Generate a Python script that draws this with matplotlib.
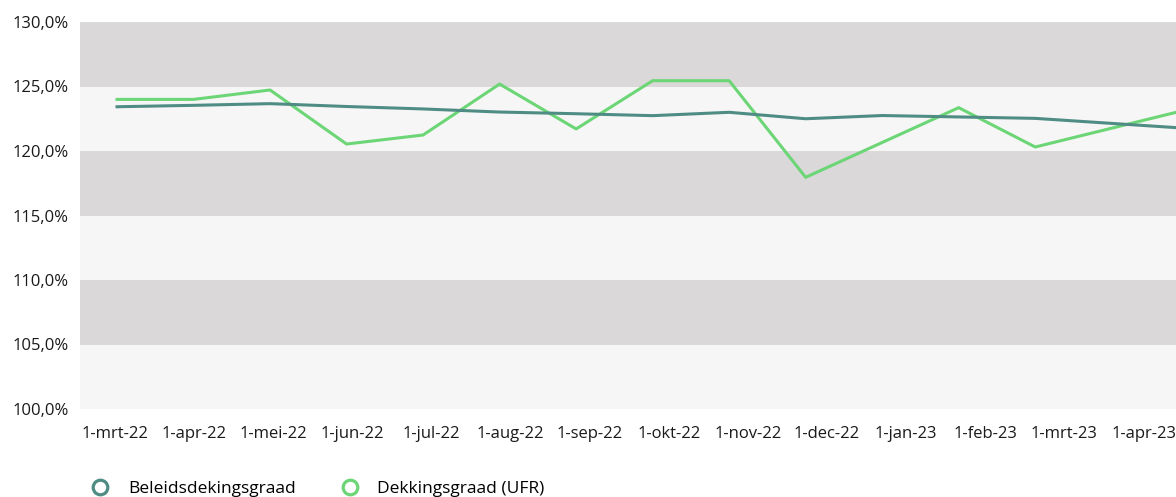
import matplotlib.pyplot as plt
from matplotlib.lines import Line2D

plt.rcParams['font.family'] = ['Open Sans', 'DejaVu Sans']

labels = ['1-mrt-22', '1-apr-22', '1-mei-22', '1-jun-22', '1-jul-22', '1-aug-22',
          '1-sep-22', '1-okt-22', '1-nov-22', '1-dec-22', '1-jan-23', '1-feb-23',
          '1-mrt-23', '1-apr-23']
# monthly values, the series runs one month past the last visible label
beleid = [123.43, 123.54, 123.67, 123.45, 123.26, 123.02, 122.89, 122.74, 123.0,
          122.5, 122.75, 122.64, 122.53, 122.14, 121.75]
ufr = [124.0, 124.0, 124.73, 120.54, 121.24, 125.19, 121.71, 125.45, 125.45,
       117.96, 120.66, 123.36, 120.31, 121.77, 123.23]
bands = [100, 105, 110, 115, 120, 125, 130]

c_beleid = '#4f8d84'
c_ufr = '#6cd676'

fig = plt.figure(figsize=(11.76, 4.97), dpi=100)
ax = fig.add_axes([80 / 1176, 1 - 409 / 497, 1 - 80 / 1176, (409 - 22) / 497])

for i in range(len(bands) - 1):
    col = '#f6f6f6' if i % 2 == 0 else '#dad8d9'
    ax.axhspan(bands[i], bands[i + 1], color=col, lw=0, zorder=0)

ax.set_xticks(range(len(labels)))
ax.set_xticklabels(labels)
ax.set_yticks(bands)
ax.set_yticklabels(['%d,0%%' % b for b in bands])
ax.set_xlim(-0.44, 13.41)
ax.set_ylim(100, 130)
ax.tick_params(length=0, labelsize=12, colors='#1a1a1a')
ax.tick_params(axis='x', pad=12)
ax.tick_params(axis='y', pad=8)
for s in ax.spines.values():
    s.set_visible(False)

# the lines sit on their own x scale (points a bit closer than the labels)
ax2 = ax.twiny()
x = list(range(len(ufr)))
ax2.plot(x, beleid, color=c_beleid, lw=2.2, zorder=3)
ax2.plot(x, ufr, color=c_ufr, lw=2.2, zorder=2)
ax2.set_xlim(-0.484, 13.84)
ax2.set_xticks([])
for s in ax2.spines.values():
    s.set_visible(False)

handles = [Line2D([], [], ls='none', marker='o', ms=10.5, mfc='none', mec=c_beleid, mew=2.3),
           Line2D([], [], ls='none', marker='o', ms=10.5, mfc='none', mec=c_ufr, mew=2.3)]
fig.legend(handles, ['Beleidsdekingsgraad', 'Dekkingsgraad (UFR)'], loc='center left',
           bbox_to_anchor=(91.3 / 1176, 1 - 489 / 497), ncol=2, frameon=False,
           fontsize=12.5, handlelength=1.0, handletextpad=1.11, columnspacing=2.6,
           borderpad=0, borderaxespad=0)

fig.savefig('out.png', dpi=100)
